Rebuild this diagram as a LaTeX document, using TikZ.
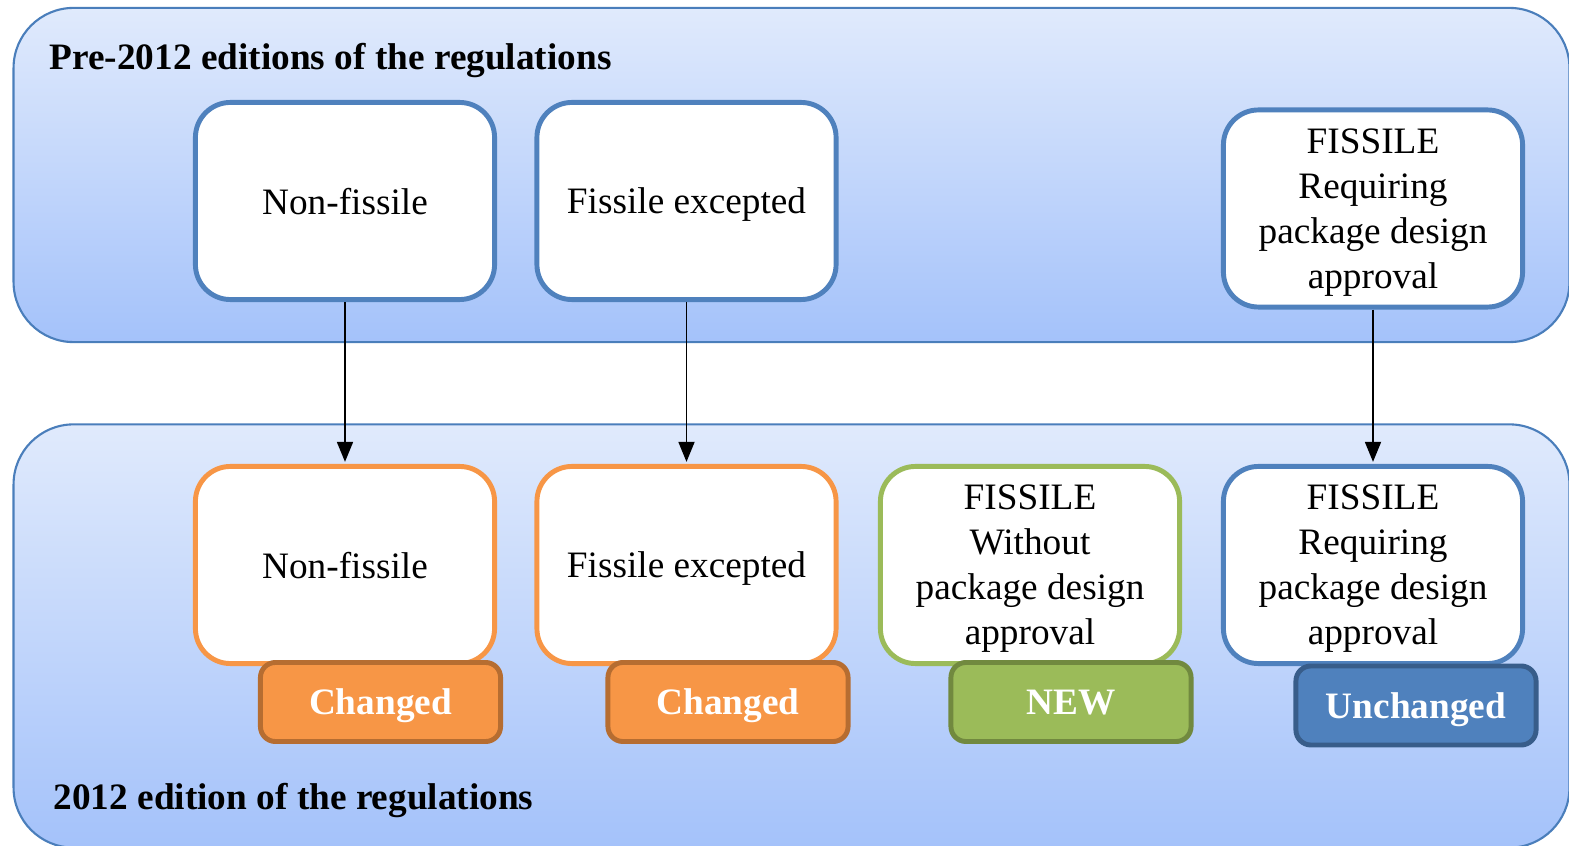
\documentclass[tikz,border=0pt]{standalone}
\usepackage{fontspec}
\setmainfont{Liberation Serif}
\usetikzlibrary{positioning,arrows.meta,shapes}
\definecolor{DEFINE_PANEL_TOP}{HTML}{E0EAFC}
\definecolor{DEFINE_PANEL_BOT}{HTML}{A4C2FA}
\definecolor{DEFINE_PANEL_LINE}{HTML}{4A7EBB}
\definecolor{DEFINE_OLD_COLOR}{HTML}{4F81BD}
\definecolor{DEFINE_CHG_COLOR}{HTML}{F79646}
\definecolor{DEFINE_CHG_LINE}{HTML}{B66D31}
\definecolor{DEFINE_NEW_COLOR}{HTML}{9BBB59}
\definecolor{DEFINE_NEW_LINE}{HTML}{71893F}
\definecolor{DEFINE_UNC_LINE}{HTML}{385D8A}
\tikzstyle{txt}=[font=\fontsize{10.6}{12.8}\selectfont]
\tikzstyle{panel} = [rectangle, rounded corners=0.6cm, draw=DEFINE_PANEL_LINE, line width=0.6pt, top color=DEFINE_PANEL_TOP, bottom color=DEFINE_PANEL_BOT, minimum width=15.55cm]
\tikzstyle{title} = [txt, font=\bfseries\fontsize{10.6}{12.8}\selectfont, anchor=west, inner sep=0pt]
\tikzstyle{cat} = [rectangle, txt, rounded corners=0.35cm, fill=white, line width=1.4pt, minimum width=2.99cm, minimum height=1.97cm, align=center, inner sep=0pt, text depth=-0.06cm]
\tikzstyle{OLD_CAT} = [cat, draw=DEFINE_OLD_COLOR]
\tikzstyle{CHG_CAT} = [cat, draw=DEFINE_CHG_COLOR]
\tikzstyle{NEW_CAT} = [cat, draw=DEFINE_NEW_COLOR]
\tikzstyle{badge} = [rectangle, rounded corners=0.15cm, line width=1.4pt, minimum width=2.40cm, minimum height=0.79cm, inner sep=0pt, text depth=-0.12cm, text=white, font=\bfseries\fontsize{10.6}{12.8}\selectfont]
\tikzstyle{CHG_BADGE} = [badge, fill=DEFINE_CHG_COLOR, draw=DEFINE_CHG_LINE]
\tikzstyle{NEW_BADGE} = [badge, fill=DEFINE_NEW_COLOR, draw=DEFINE_NEW_LINE]
\tikzstyle{UNC_BADGE} = [badge, fill=DEFINE_OLD_COLOR, draw=DEFINE_UNC_LINE]
\begin{document}
\begin{tikzpicture}[x=0.01cm, y=-0.01cm]
      \useasboundingbox (0,0) rectangle (1569,846);

      %%%%%%%%%%%%%%%%%%%%%%%%%%%%%%%%%%%%%%%%%%%%%%%%%
      % PANELS
      %%%%%%%%%%%%%%%%%%%%%%%%%%%%%%%%%%%%%%%%%%%%%%%%%
      \node[panel, minimum height=3.34cm] (PRE) at (791.5,175) {};
      \node[panel, minimum height=4.23cm] (NOW) at (791.5,636) {};
      \node[title] (PRE_T) at (49,60.5) {Pre-2012 editions of the regulations};
      \node[title] (NOW_T) at (53,800) {2012 edition of the regulations};

      %%%%%%%%%%%%%%%%%%%%%%%%%%%%%%%%%%%%%%%%%%%%%%%%%
      % PRE-2012 CATEGORIES
      %%%%%%%%%%%%%%%%%%%%%%%%%%%%%%%%%%%%%%%%%%%%%%%%%
      \node[OLD_CAT] (NF1) at (345,201)    {Non-fissile};
      \node[OLD_CAT] (FE1) at (686.5,201)  {Fissile excepted};
      \node[OLD_CAT] (FR1) at (1373,208.5) {FISSILE\\Requiring\\package design\\approval};

      %%%%%%%%%%%%%%%%%%%%%%%%%%%%%%%%%%%%%%%%%%%%%%%%%
      % 2012 CATEGORIES + BADGES
      %%%%%%%%%%%%%%%%%%%%%%%%%%%%%%%%%%%%%%%%%%%%%%%%%
      \node[CHG_CAT] (NF2) at (345,565)    {Non-fissile};
      \node[CHG_CAT] (FE2) at (686.5,565)  {Fissile excepted};
      \node[NEW_CAT] (FW2) at (1030,565)   {FISSILE\\Without\\package design\\approval};
      \node[OLD_CAT] (FR2) at (1373,565)   {FISSILE\\Requiring\\package design\\approval};

      \node[CHG_BADGE] (B1) at (380.5,702)  {Changed};
      \node[CHG_BADGE] (B2) at (728,702)    {Changed};
      \node[NEW_BADGE] (B3) at (1071,702)   {NEW};
      \node[UNC_BADGE] (B4) at (1416,705.5) {Unchanged};

      %%%%%%%%%%%%%%%%%%%%%%%%%%%%%%%%%%%%%%%%%%%%%%%%%
      % ARROWS
      %%%%%%%%%%%%%%%%%%%%%%%%%%%%%%%%%%%%%%%%%%%%%%%%%
      \path[-{Triangle[length=0.2cm,width=0.16cm]}, line width=0.5pt, shorten >=0.6pt]
      (NF1.south) edge (NF2.north)
      (FE1.south) edge (FE2.north)
      (FR1.south) edge (FR2.north);

\end{tikzpicture}
\end{document}
